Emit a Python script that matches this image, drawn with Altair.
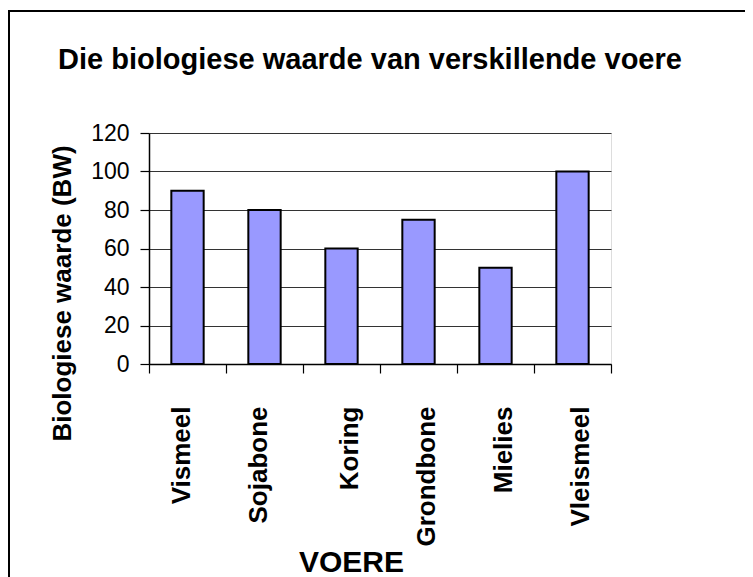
import altair as alt
import pandas as pd

categories = ["Vismeel", "Sojabone", "Koring", "Grondbone", "Mielies", "Vleismeel"]
values = [90, 80, 60, 75, 50, 100]
y_ticks = [0, 20, 40, 60, 80, 100, 120]

df = pd.DataFrame({"voer": categories, "bw": values})

FONT = "Liberation Sans"

bars = alt.Chart(df).mark_bar(
    width={"band": 0.42}, color="#9999FF", stroke="black", strokeWidth=2
).encode(
    x=alt.X(
        "voer:N",
        sort=categories,
        scale=alt.Scale(paddingInner=0, paddingOuter=0),
        axis=alt.Axis(
            title="VOERE",
            titleFont=FONT,
            titleFontSize=30,
            titleFontWeight="bold",
            titleColor="black",
            titleX=202,
            titleY=207,
            titleAlign="center",
            titleBaseline="alphabetic",
            labelAngle=270,
            labelFont=FONT,
            labelFontSize=26,
            labelFontWeight="bold",
            labelColor="black",
            labelPadding=33,
            labelOffset={
                "condition": {"test": "indexof(['Vismeel','Sojabone'], datum.value) >= 0", "value": -6},
                "value": 8,
            },
            tickBand="extent",
            tickSize=9,
            tickColor="black",
            tickWidth=1.2,
            domainColor="black",
            domainWidth=1.5,
            grid=False,
        ),
    ),
    y=alt.Y(
        "bw:Q",
        scale=alt.Scale(domain=[0, 120], nice=False),
        axis=alt.Axis(
            title="Biologiese waarde (BW)",
            titleFont=FONT,
            titleFontSize=26,
            titleFontWeight="bold",
            titleColor="black",
            titleAngle=270,
            titleX=-79,
            titleY=160,
            titleAlign="center",
            titleBaseline="alphabetic",
            values=y_ticks,
            labelFont=FONT,
            labelFontSize=23,
            labelColor="black",
            labelPadding=11,
            tickSize=9,
            tickColor="black",
            tickWidth=1.2,
            domainColor="black",
            domainWidth=1.5,
            grid=True,
            gridColor="#333333",
            gridWidth=1.2,
        ),
    ),
)

frame = alt.Chart(alt.Data(values=[{"k": 1}])).mark_rect(
    fillOpacity=0, stroke="black", strokeWidth=2
).encode(
    x=alt.value(-140),
    y=alt.value(-122),
    x2=alt.value(800),
    y2=alt.value(700),
)

chart = alt.layer(bars, frame).properties(
    width=462,
    height=231,
    title=alt.TitleParams(
        "Die biologiese waarde van verskillende voere",
        font=FONT,
        fontSize=29,
        fontWeight="bold",
        color="black",
        anchor="middle",
        frame="group",
        baseline="alphabetic",
        offset=-88,
        dx=-10,
    ),
    autosize=alt.AutoSizeParams(type="none"),
    padding={"left": 141, "top": 125, "right": 134, "bottom": 213},
).configure_view(
    fill="#C0C0C0", stroke="#808080", strokeWidth=1.5
).configure(background="white")

chart.save("out.html", embed_options={"renderer": "svg", "actions": False})
